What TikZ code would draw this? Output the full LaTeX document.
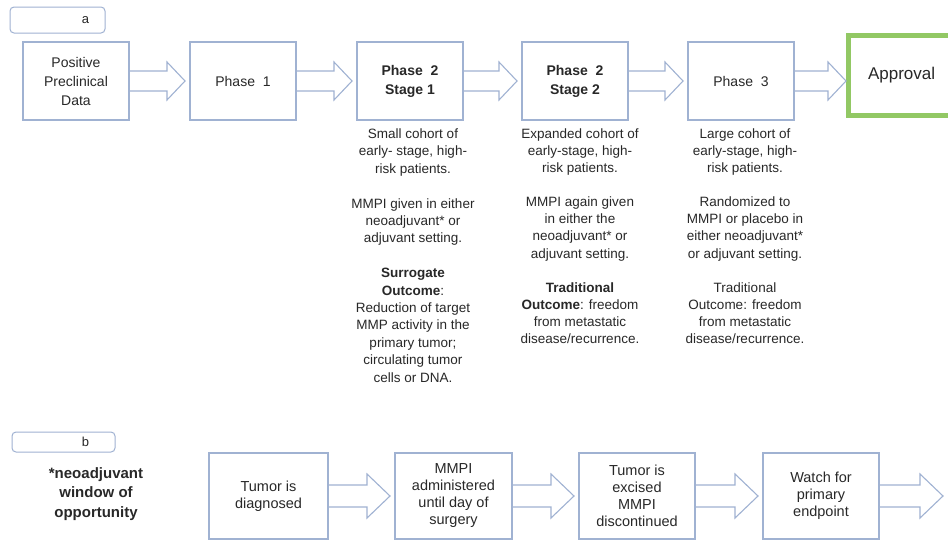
\documentclass[tikz,border=0pt]{standalone}
\usepackage{fontspec}
\setmainfont{Liberation Sans}
\usetikzlibrary{calc}
\definecolor{boxc}{RGB}{160,178,210}
\definecolor{greenc}{RGB}{146,200,100}
\definecolor{txt}{RGB}{40,40,40}
\newcommand\blockarr[6]{%
  \draw[arrc] let \p1=(#1), \p2=(#2) in
  (\x1,\y1+#3) -- (\x2-#6-#5,\y1+#3) -- (\x2-#6-#5,\y1+#4) -- (\x2-#6,\y1)
  -- (\x2-#6-#5,\y1-#4) -- (\x2-#6-#5,\y1-#3) -- (\x1,\y1-#3);}
\begin{document}
\begin{tikzpicture}[x=1pt,y=-1pt,
  box/.style={draw=boxc, line width=1.1pt, fill=white, inner sep=0pt, outer sep=0pt,
    align=center, text=txt, minimum width=106pt, minimum height=78pt,
    font=\fontsize{14}{19}\selectfont},
  bbox/.style={box, minimum width=117pt, minimum height=86pt,
    font=\fontsize{14.5}{17}\selectfont},
  arrc/.style={draw=boxc, line width=1.1pt, line join=miter},
  note/.style={align=center, text=txt, inner sep=0pt, anchor=north,
    font=\fontsize{13.5}{17.4}\selectfont},
  lab/.style={draw=boxc, line width=1pt, rounded corners=4pt, inner ysep=0pt, outer sep=0pt,
    align=right, text=txt, font=\fontsize{13}{15}\selectfont}]
\useasboundingbox (0,0) rectangle (948,544);
\clip (0,0) rectangle (948,544);
\fill[white] (0,0) rectangle (948,544);

% ---- part a ----
\node[lab, minimum height=26pt, inner xsep=16pt, text width=63pt] (la) at (57.5,20) {a};

\node[box] (p0) at (76,81) {Positive\\Preclinical\\Data};
\node[box] (p1) at (243,81) {Phase\ \ 1};
\node[box] (p2) at (410,81) {\textbf{Phase\ \ 2}\\\textbf{Stage 1}};
\node[box] (p3) at (575,81) {\textbf{Phase\ \ 2}\\\textbf{Stage 2}};
\node[box] (p4) at (741,81) {Phase\ \ 3};
\node[draw=greenc, line width=5pt, outer sep=0pt, minimum height=80pt, text width=120pt,
  align=left, inner xsep=19.5pt, inner ysep=0pt, anchor=west, text=txt,
  font=\fontsize{17}{20}\selectfont] (ap) at (848.5,75.5) {Approval};

\blockarr{p0.east}{p1.west}{10pt}{19pt}{18pt}{5pt}
\blockarr{p1.east}{p2.west}{10pt}{19pt}{18pt}{5pt}
\blockarr{p2.east}{p3.west}{10pt}{19pt}{18pt}{5pt}
\blockarr{p3.east}{p4.west}{10pt}{19pt}{18pt}{5pt}
\blockarr{p4.east}{ap.west}{10pt}{19pt}{18pt}{2.5pt}

\node[note] (n2) at (413,128.5) {Small cohort of\\early- stage, high-\\risk patients.\\[17.4pt]
  MMPI given in either\\neoadjuvant* or\\adjuvant setting.\\[17.4pt]
  \textbf{Surrogate}\\\textbf{Outcome}:\\Reduction of target\\MMP activity in the\\primary tumor;\\circulating tumor\\cells or DNA.};
\node[note, font=\fontsize{13.5}{17.1}\selectfont] (n3) at (580,128.5) {Expanded cohort of\\early-stage, high-\\risk patients.\\[17pt]
  MMPI again given\\in either the\\neoadjuvant* or\\adjuvant setting.\\[17pt]
  \textbf{Traditional}\\\textbf{Outcome}: freedom\\from metastatic\\disease/recurrence.};
\node[note, font=\fontsize{13.5}{17.1}\selectfont] (n4) at (745,128.5) {Large cohort of\\early-stage, high-\\risk patients.\\[17pt]
  Randomized to\\MMPI or placebo in\\either neoadjuvant*\\or adjuvant setting.\\[17pt]
  Traditional\\Outcome: freedom\\from metastatic\\disease/recurrence.};

% ---- part b ----
\node[lab, minimum height=20pt, inner xsep=26pt, text width=51pt] (lb) at (63.5,442) {b};
\node[align=center, text=txt, inner sep=0pt, font=\bfseries\fontsize{15}{19.5}\selectfont]
  (win) at (96,494) {*neoadjuvant\\window of\\opportunity};

\node[bbox, minimum width=119pt] (b1) at (268.5,496) {Tumor is\\diagnosed};
\node[bbox] (b2) at (453.5,496) {MMPI\\administered\\until day of\\surgery};
\node[bbox, minimum width=116pt] (b3) at (637,496) {Tumor is\\excised\\MMPI\\discontinued};
\node[bbox, minimum width=116pt] (b4) at (821,496) {Watch for\\primary\\endpoint};
\coordinate (bend) at (948,496);

\blockarr{b1.east}{b2.west}{11pt}{22pt}{23pt}{5pt}
\blockarr{b2.east}{b3.west}{11pt}{22pt}{23pt}{5pt}
\blockarr{b3.east}{b4.west}{11pt}{22pt}{23pt}{5pt}
\blockarr{b4.east}{bend}{11pt}{22pt}{23pt}{5pt}
\end{tikzpicture}
\end{document}
